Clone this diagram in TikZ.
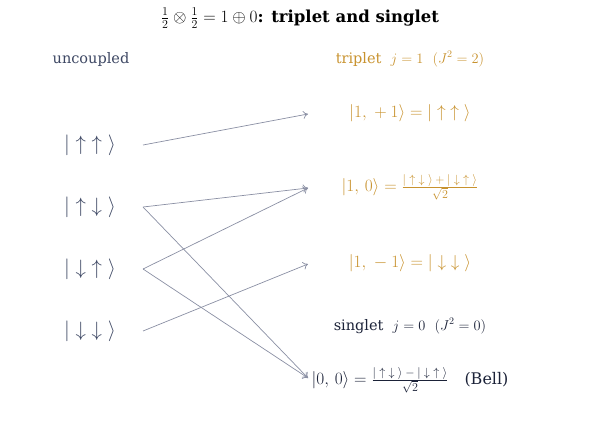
\documentclass[tikz,border=0pt]{standalone}
\usepackage[no-math]{fontspec}
\setmainfont{DejaVu Serif}
\usetikzlibrary{arrows.meta}
\definecolor{leftc}{HTML}{3D4763}
\definecolor{gold}{HTML}{C8922E}
\definecolor{navy}{HTML}{1B2238}
\definecolor{arr}{HTML}{8A8FA3}
\newcommand{\U}{{\uparrow}}
\newcommand{\D}{{\downarrow}}
\newcommand{\kt}[2]{|\;#1\;#2\;\rangle}
\newcommand{\sm}[1]{\mbox{\fontsize{12.5}{14}\selectfont$#1$}}
\begin{document}
\begin{tikzpicture}[x=1pt,y=-1pt,
  ket/.style={text=leftc,font=\fontsize{20}{24}\selectfont},
  trip/.style={text=gold,font=\fontsize{16}{19}\selectfont},
  sing/.style={text=navy,font=\fontsize{16}{19}\selectfont},
  lab/.style={font=\fontsize{14.5}{17}\selectfont},
  conn/.style={draw=arr,line width=0.7pt,-{To[length=5pt,width=8pt]}}]
\useasboundingbox (0,0) rectangle (601,423);
\node[font=\fontsize{16.5}{19}\selectfont\bfseries] (title) at (300,18) {$\frac12\otimes\frac12=1\oplus0$: triplet and singlet};
\node[lab,text=leftc] (unc) at (91,59) {uncoupled};
\node[lab,text=gold] (tlab) at (410,59) {triplet\ \ $j=1$\ \ $(J^2=2)$};
\node[ket] (uu) at (90,145) {$\kt\U\U$};
\node[ket] (ud) at (90,207) {$\kt\U\D$};
\node[ket] (du) at (90,269) {$\kt\D\U$};
\node[ket] (dd) at (90,331) {$\kt\D\D$};
\node[trip] (tp) at (410,113) {$|1,\;{+}\:1\rangle=\kt\U\U$};
\node[trip] (tz) at (410,187) {$|1,\,0\rangle=\frac{\sm{\kt\U\D+\kt\D\U}}{\sm{\sqrt2}}$};
\node[trip] (tm) at (410,263) {$|1,\;{-}\:1\rangle=\kt\D\D$};
\node[lab,text=navy] (slab) at (410,326) {singlet\ \ $j=0$\ \ $(J^2=0)$};
\node[sing] (s0) at (410,380) {$|0,\,0\rangle=\frac{\sm{\kt\U\D-\kt\D\U}}{\sm{\sqrt2}}$\quad (Bell)};
\coordinate (a1) at (143,145);
\coordinate (a2) at (143,207);
\coordinate (a3) at (143,269);
\coordinate (a4) at (143,331);
\coordinate (b1) at (308,114);
\coordinate (b2) at (308,188);
\coordinate (b3) at (308,264);
\coordinate (b4) at (308,378);
\draw[conn] (a1) -- (b1);
\draw[conn] (a2) -- (b2);
\draw[conn] (a3) -- (b2);
\draw[conn] (a4) -- (b3);
\draw[conn] (a2) -- (b4);
\draw[conn] (a3) -- (b4);
\end{tikzpicture}
\end{document}
